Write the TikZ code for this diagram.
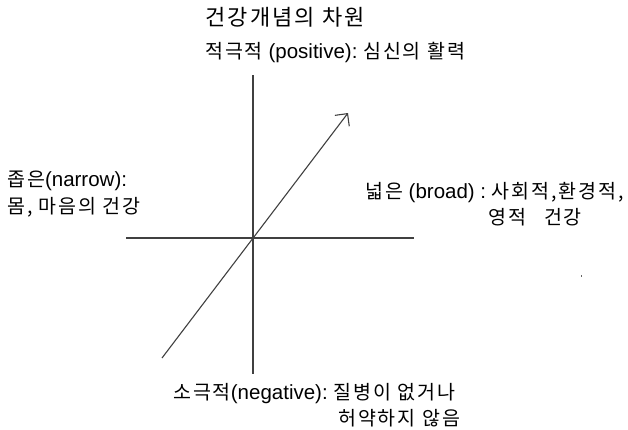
\documentclass[tikz,border=0pt]{standalone}
\usepackage{fontspec}
\setmainfont{Liberation Sans}
\newfontfamily\kr[LetterSpace=10]{Noto Sans CJK KR}
\newfontfamily\latf{Liberation Sans}
\usetikzlibrary{arrows.meta}
\newcommand{\lat}[1]{{\fontsize{20.5}{22}\latf#1}}
\tikzset{
  lbl/.style={anchor=base west, inner sep=0pt, font=\fontsize{19.5}{22}\kr, text=black},
  ttl/.style={anchor=base west, inner sep=0pt, font=\fontsize{22}{24}\kr, text=black},
  axis/.style={draw=black!75, line width=1.3pt},
  dirarrow/.style={draw=black!75, line width=1.1pt, -{Straight Barb[length=9pt,width=18pt,line width=1.1pt]}}
}
\begin{document}
\begin{tikzpicture}[x=1pt,y=-1pt]
\useasboundingbox (0,0) rectangle (628,429);
% axes
\coordinate (vt) at (253,75);
\coordinate (vb) at (253,374);
\coordinate (hl) at (126,238);
\coordinate (hr) at (414,238);
\coordinate (dt) at (162,358);
\coordinate (dh) at (348,113);
\draw[axis] (vt) -- (vb);
\draw[axis] (hl) -- (hr);
\draw[dirarrow] (dt) -- (dh);
% texts
\node[ttl] (title) at (205,25) {건강개념의 차원};
\node[lbl] (pos) at (205,58) {적극적\lat{\ (positive):\ }심신의 활력};
\node[lbl] (nar1) at (7,186) {좁은\lat{(narrow):}};
\node[lbl] (nar2) at (7,213) {몸, 마음의 건강};
\node[lbl] (bro1) at (365,198) {넓은\lat{\ (broad) :\ }사회적,환경적,};
\node[lbl] (bro2) at (488,224) {영적\hspace{18pt}건강};
\node[lbl] (neg1) at (173,399) {소극적\lat{(negative):\ }질병이 없거나};
\node[lbl] (neg2) at (338,425) {허약하지 않음};
\fill[black!60] (580.5,274.5) rectangle (582,277);
\end{tikzpicture}
\end{document}
